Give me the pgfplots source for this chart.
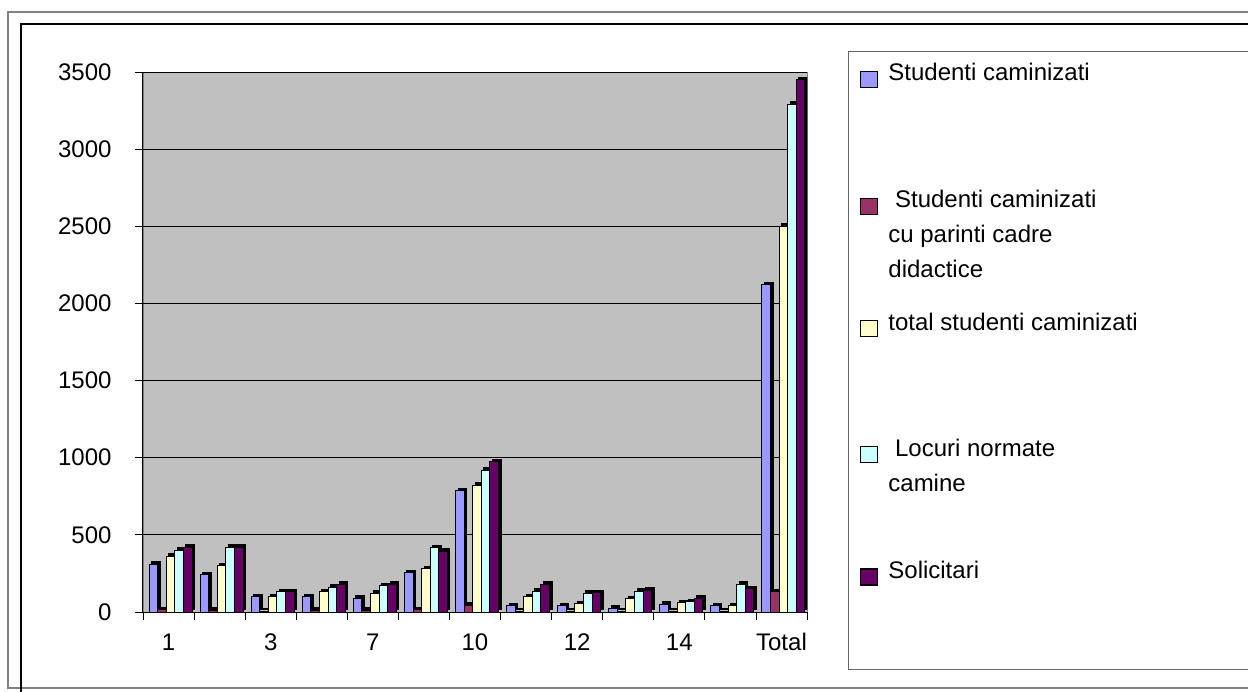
\documentclass[border=0pt]{standalone}
\usepackage{pgfplots}
\pgfplotsset{compat=1.18}
\usepackage{fontspec}
\setmainfont{Liberation Sans}

\definecolor{cBlue}{HTML}{9999FF}
\definecolor{cMaroon}{HTML}{993366}
\definecolor{cYellow}{HTML}{FFFFCC}
\definecolor{cCyan}{HTML}{CCFFFF}
\definecolor{cPurple}{HTML}{660066}
\definecolor{cWall}{HTML}{C0C0C0}

\newcommand{\lfont}{\fontsize{24}{35}\selectfont}

\begin{document}
\begin{tikzpicture}[x=1pt,y=1pt]
\useasboundingbox (0,0) rectangle (1248,691);
\fill[white] (0,0) rectangle (1248,691);
\draw[gray, line width=1.5pt] (8,3) rectangle (1270,679);
\draw[black, line width=1.5pt] (21,-10) rectangle (1270,667);
\draw[black!60, line width=1pt] (848,21) rectangle (1300,639);

\begin{axis}[
  at={(143pt,79pt)}, anchor=south west,
  scale only axis, width=664pt, height=540pt,
  xmin=-0.5, xmax=12.5, ymin=0, ymax=3500,
  ybar, bar width=8.6pt,
  axis background/.style={fill=cWall, draw=gray},
  axis x line*=bottom, axis y line*=left,
  axis line style={black, line width=1pt, -},
  ytick={0,500,...,3500},
  ymajorgrids, grid style={black, line width=0.8pt},
  xtick={0,2,4,6,8,10,12},
  xticklabels={1,3,7,10,12,14,Total},
  minor xtick={-0.5,0.5,...,12.5},
  tick align=outside,
  major tick length=8pt, minor tick length=8pt,
  major x tick style={draw=none},
  tick style={black, line width=0.8pt},
  tick label style={font=\fontsize{24}{28}\selectfont},
  /pgf/number format/assume math mode=true,
  /pgf/number format/1000 sep={},
  yticklabel style={xshift=-20pt},
  xticklabel style={yshift=-10pt},
  b3d/.style={draw=black, line width=1pt,
    preaction={fill=black, draw=black, transform canvas={xshift=2.5pt, yshift=2.5pt}}},
  legend image code/.code={\draw[#1, line width=1.2pt] (0pt,-10pt) rectangle (17pt,-26pt);},
  legend style={at={(1.0753,1.0241)}, anchor=north west, draw=none, fill=none,
    font=\lfont, cells={anchor=north west}, column sep=8pt, row sep=0pt,
    nodes={inner sep=2pt, text depth=}},
]
% Studenti caminizati
\addplot[b3d, fill=cBlue, bar shift=-15.2pt, forget plot] coordinates {
  (0,310) (1,240) (2,100) (3,100) (4,90) (5,255) (6,785)
  (7,40) (8,40) (9,25) (10,50) (11,40) (12,2120)};
% Studenti caminizati cu parinti cadre didactice
\addplot[b3d, fill=cMaroon, bar shift=-6.6pt, forget plot] coordinates {
  (0,15) (1,10) (2,5) (3,10) (4,10) (5,15) (6,45)
  (7,5) (8,5) (9,5) (10,5) (11,5) (12,130)};
% total studenti caminizati
\addplot[b3d, fill=cYellow, bar shift=2pt, forget plot] coordinates {
  (0,360) (1,300) (2,100) (3,130) (4,120) (5,280) (6,820)
  (7,100) (8,55) (9,85) (10,60) (11,40) (12,2500)};
% Locuri normate camine
\addplot[b3d, fill=cCyan, bar shift=10.6pt, forget plot] coordinates {
  (0,400) (1,420) (2,130) (3,160) (4,170) (5,415) (6,920)
  (7,135) (8,120) (9,135) (10,65) (11,180) (12,3290)};
% Solicitari
\addplot[b3d, fill=cPurple, bar shift=19.2pt, forget plot] coordinates {
  (0,420) (1,420) (2,130) (3,180) (4,180) (5,395) (6,975)
  (7,180) (8,125) (9,140) (10,90) (11,150) (12,3450)};

\addlegendimage{fill=cBlue, draw=black}
\addlegendentry{\parbox[t][123pt][t]{330pt}{\lfont Studenti caminizati}}
\addlegendimage{fill=cMaroon, draw=black}
\addlegendentry{\parbox[t][118pt][t]{330pt}{\lfont\hspace{0.28em}Studenti caminizati\\cu parinti cadre\\didactice}}
\addlegendimage{fill=cYellow, draw=black}
\addlegendentry{\parbox[t][122pt][t]{330pt}{\lfont total studenti caminizati}}
\addlegendimage{fill=cCyan, draw=black}
\addlegendentry{\parbox[t][118pt][t]{330pt}{\lfont\hspace{0.28em}Locuri normate\\camine}}
\addlegendimage{fill=cPurple, draw=black}
\addlegendentry{\parbox[t][40pt][t]{330pt}{\lfont Solicitari}}
\end{axis}
\end{tikzpicture}
\end{document}
